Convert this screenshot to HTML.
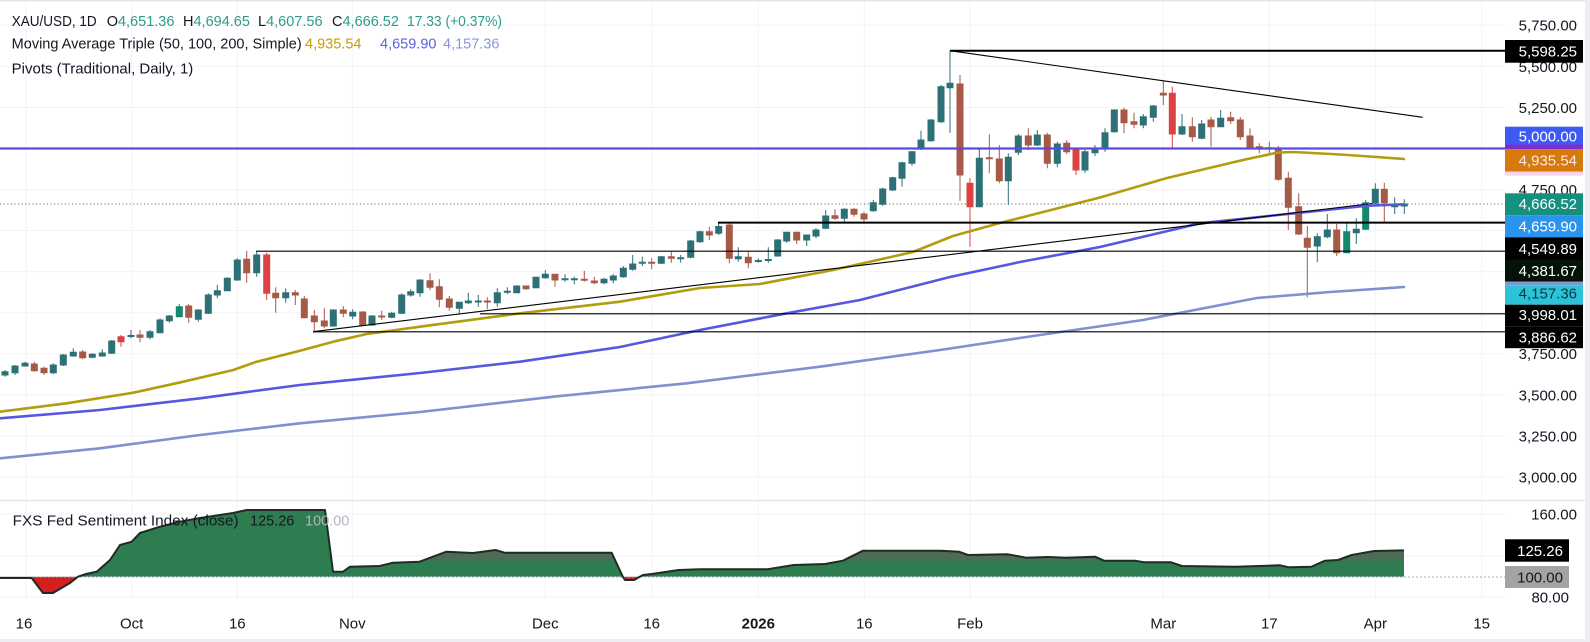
<!DOCTYPE html>
<html><head><meta charset="utf-8"><style>
html,body{margin:0;padding:0;background:#fff;}
svg{display:block;font-family:"Liberation Sans",Arial,sans-serif;}
</style></head><body>
<svg width="1590" height="642" viewBox="0 0 1590 642" xmlns="http://www.w3.org/2000/svg">
<rect x="0" y="0" width="1590" height="642" fill="#fff"/>
<!-- grid -->
<g stroke="#f0f3fa" stroke-width="1">
<path d="M0 25.3H1505M0 66.4H1505M0 107.5H1505M0 148.5H1505M0 189.6H1505M0 230.6H1505M0 271.7H1505M0 312.8H1505M0 353.8H1505M0 394.9H1505M0 436H1505M0 477H1505"/>
<path d="M0 514H1505M0 556H1505M0 597H1505"/>
<path d="M26 0V600M131.7 0V600M237.3 0V600M352.3 0V600M545.3 0V600M651.7 0V600M758.3 0V600M864.3 0V600M970 0V600M1163.3 0V600M1269.3 0V600M1375.3 0V600M1481.7 0V600"/>
</g>
<line x1="0" y1="500.5" x2="1585" y2="500.5" stroke="#e0e3eb" stroke-width="1.2"/>

<!-- candles -->
<g stroke-width="1" stroke-linejoin="miter">
<path fill="#2d7076" stroke="#2d7076" d="M5 370V376.7M2 371.7h6V375h-6zM15 365V375M12 366h6V372.7h-6zM25 361.7V366.7M22 363.3h6V366h-6zM53.3 363.3V374M50.3 365h6V372.7h-6zM63.3 354V366M60.3 355h6V365h-6zM73.3 348.3V356.7M70.3 352.3h6V356h-6zM92.3 353.3V358.3M89.3 354.3h6V357.3h-6zM102.3 349.3V356.7M99.3 353h6V356h-6zM111.7 340V354M108.7 341h6V353.3h-6zM131 330V338.3M128 335.5h6V336.5h-6zM150 330V339.3M147 331.7h6V337.3h-6zM160 318.3V333.3M157 320h6V332.7h-6zM169.3 315V322.7M166.3 316h6V320.7h-6zM198.3 309.3V321.7M195.3 310h6V319.3h-6zM208.3 293.3V314M205.3 295h6V313.3h-6zM217.3 285V298.3M214.3 290.7h6V295h-6zM227.3 277.3V291.3M224.3 278.3h6V290.7h-6zM237.3 258.3V280.7M234.3 260h6V280h-6zM256.7 251.7V276.7M253.7 255h6V272.7h-6zM285.7 288.3V302.7M282.7 292.7h6V297.7h-6zM333.3 309.3V326.7M330.3 310h6V326h-6zM352.7 309.3V319.3M349.7 312.3h6V316h-6zM372 315.3V325.7M369 316h6V325h-6zM391.7 311.7V318.3M388.7 313.3h6V317.3h-6zM401.7 293.3V314M398.7 295h6V313.3h-6zM410.7 289.3V296.7M407.7 291.7h6V295h-6zM420 279.3V296.7M417 280h6V292.7h-6zM459.3 301.7V313.3M456.3 302.3h6V308.3h-6zM468.3 292.7V304M465.3 301h6V302.7h-6zM478.3 295V306.7M475.3 301h6V302h-6zM497.3 288.3V306.7M494.3 292.7h6V302.7h-6zM507.3 287.3V294.3M504.3 291.2h6V292.2h-6zM516.7 285.3V293M513.7 286h6V292.7h-6zM536 276.7V288.3M533 277.3h6V287.7h-6zM545.3 270V278.7M542.3 274.3h6V277.7h-6zM565 274.3V281.7M562 278.8h6V279.8h-6zM574.3 276.7V284.3M571.3 278.8h6V279.8h-6zM604 277.7V284.3M601 279.3h6V282.7h-6zM613.3 274.3V283.3M610.3 276h6V280h-6zM623.3 266V277.7M620.3 268.3h6V276.7h-6zM632.7 255V270.7M629.7 264h6V269.3h-6zM642.3 256.7V266M639.3 262.2h6V263.2h-6zM661.3 256V264M658.3 256.7h6V263.3h-6zM680.7 255V262.7M677.7 257.8h6V258.8h-6zM690.7 240V258.3M687.7 241h6V257.3h-6zM700 230.7V242.7M697 231.7h6V241.7h-6zM718.7 221.7V235M715.7 226.5h6V233.3h-6zM738.3 247.3V261.7M735.3 256.7h6V258.7h-6zM758.3 258.3V262.7M755.3 260.5h6V261.5h-6zM768.3 247.3V262.7M765.3 259.5h6V260.5h-6zM777.7 239V256.7M774.7 240h6V256h-6zM786.7 231.7V242.7M783.7 232.3h6V241h-6zM806.7 235V246M803.7 235h6V240h-6zM816 228.3V238.3M813 230h6V236h-6zM825.7 210V229.3M822.7 216h6V228.3h-6zM844.3 208.3V221.7M841.3 209.3h6V218.3h-6zM873.3 200V211.7M870.3 202.7h6V210.7h-6zM882.7 187.7V205.7M879.7 189h6V204.3h-6zM892.7 176.7V191M889.7 177.7h6V190h-6zM902 161.7V186.7M899 162.7h6V178.3h-6zM912 151V165.7M909 151.7h6V163.3h-6zM921 130.7V150M918 140h6V148.3h-6zM931 119V141.7M928 120h6V140.7h-6zM941 85V123.3M938 86.7h6V121.7h-6zM950 50.7V132.7M947 83.3h6V87.7h-6zM979.3 148.3V207.3M976.3 158.3h6V206.7h-6zM1008.3 153.3V205M1005.3 157.3h6V180.7h-6zM1018.3 134V155M1015.3 136h6V152.3h-6zM1037.3 130V146M1034.3 135h6V145h-6zM1057.3 141.7V167.3M1054.3 144h6V163.3h-6zM1085 148.3V172.7M1082 151.7h6V170h-6zM1095 145V156M1092 148.3h6V152.7h-6zM1105 128.3V151.7M1102 132.7h6V148.3h-6zM1114.3 109.3V132.7M1111.3 110h6V131.7h-6zM1143.3 114V128.3M1140.3 116.7h6V125h-6zM1153.3 105V121.7M1150.3 106h6V117.3h-6zM1182 114V135M1179 126.7h6V134h-6zM1201.7 120V139.3M1198.7 124h6V138.3h-6zM1220.7 110V127.3M1217.7 118.3h6V126.7h-6zM1317.3 233.3V262.3M1314.3 236.7h6V246h-6zM1327.3 214V238.3M1324.3 230h6V236.7h-6zM1356.3 218.3V244M1353.3 229.3h6V232.7h-6zM1375.3 183.3V204M1372.3 189.3h6V203.3h-6zM1394.7 197.3V214M1391.7 205h6V206.7h-6zM1404.3 199.3V214M1401.3 204h6V206h-6z"/>
<path fill="#15876e" stroke="#15876e" d="M179.3 304V317.3M176.3 306.7h6V316.7h-6zM1346.7 222.7V253.3M1343.7 231.7h6V252.7h-6zM1365.7 200V230M1362.7 202.7h6V229.3h-6z"/>
<path fill="#a65a47" stroke="#a65a47" d="M34.3 361.7V371.7M31.3 364h6V370.7h-6zM44 366.7V375M41 368.3h6V372.7h-6zM82.7 350V359.3M79.7 352h6V357.7h-6zM140 330V342.3M137 335h6V337.3h-6zM188.7 304V322.7M185.7 306h6V317.3h-6zM246.7 250.7V282.7M243.7 259.3h6V272.7h-6zM275.7 287.3V312.7M272.7 293.3h6V297.7h-6zM295.3 290V305M292.3 292.7h6V295h-6zM304.3 296V318.3M301.3 299h6V317.7h-6zM314.3 310V331.7M311.3 316h6V321.7h-6zM324.3 308.3V328.3M321.3 321h6V326h-6zM343.3 306V317.3M340.3 310h6V313.3h-6zM362.7 311.3V326M359.7 312h6V325h-6zM381.7 310.7V320M378.7 316h6V317h-6zM430 273.3V290M427 280.7h6V287.3h-6zM439.3 279.3V307.3M436.3 286.7h6V299.3h-6zM449.3 296V310.7M446.3 299h6V307.3h-6zM487.3 297.3V309.3M484.3 301h6V302h-6zM526 285.5V290M523 286h6V288.7h-6zM555 274V286.7M552 274.3h6V280h-6zM584.3 270.7V281.7M581.3 279.3h6V280.3h-6zM594.3 276.7V284.3M591.3 281h6V282.7h-6zM651.7 258.3V269.3M648.7 262.2h6V263.2h-6zM671.3 251.7V262.7M668.3 256.7h6V258.3h-6zM709.3 226.7V240M706.3 231.7h6V235h-6zM729.3 223.3V263.3M726.3 225h6V258.3h-6zM748.3 251.7V268.3M745.3 257.3h6V262.7h-6zM796.7 231.7V244M793.7 232.3h6V240h-6zM835 209.3V220M832 215.7h6V218.3h-6zM854 208.3V216.7M851 209.3h6V214.3h-6zM864 211.7V224M861 214h6V219h-6zM960 75V200.7M957 84h6V175h-6zM989.3 134.3V173.3M986.3 157.8h6V158.8h-6zM999.3 145V183.3M996.3 159h6V180.7h-6zM1028.3 128.3V150M1025.3 136h6V145h-6zM1047.3 132.7V168.3M1044.3 135h6V163.3h-6zM1066.7 140V154M1063.7 143.3h6V151.7h-6zM1124 107.7V133.3M1121 110h6V122.7h-6zM1134 112.7V128.3M1131 121.7h6V124.3h-6zM1163.3 80.7V105M1160.3 93.3h6V95h-6zM1192.3 117.3V141.7M1189.3 126.7h6V136.7h-6zM1211 116.7V146.7M1208 120h6V126.7h-6zM1230.7 111.7V124M1227.7 117.7h6V120.7h-6zM1240.3 117.3V140M1237.3 120h6V136.7h-6zM1250 128.3V148.3M1247 136h6V147.3h-6zM1259.3 143.3V153.3M1256.3 146.8h6V147.8h-6zM1269.3 141.7V153.3M1266.3 147.8h6V148.8h-6zM1278.3 146V180.7M1275.3 148.3h6V179.3h-6zM1288.3 171.7V230M1285.3 178.3h6V207.3h-6zM1298.7 193.3V235M1295.7 206.7h6V234h-6zM1307.3 226V297.3M1304.3 238.3h6V247.3h-6zM1336.7 224V256M1333.7 230h6V252.7h-6zM1384.3 182.7V222.7M1381.3 189.3h6V202.7h-6z"/>
<path fill="#dc4242" stroke="#dc4242" d="M121 335V346.7M118 336.7h6V341.7h-6zM266.7 252.7V300M263.7 255h6V293.3h-6zM970 178.3V246.7M967 183.3h6V206.7h-6zM1076 148.3V175M1073 150h6V170h-6zM1172.3 86.7V148.3M1169.3 93.3h6V134h-6z"/>
</g>

<!-- moving averages -->
<g fill="none" stroke-width="2.6" stroke-linejoin="round" stroke-linecap="round">
<polyline stroke="#7f91cf" points="0,458.3 100,448.3 200,435 300,423.3 420,412 553.3,396.7 686.7,383.3 820,366.7 940,350 1040,335 1143,320 1257,298 1330,292 1404,287"/>
<polyline stroke="#5757e0" points="0,418.3 100,410 200,398.3 300,385 420,373 520,361.7 620,347 700,330 786.7,313.3 860,300 950,277 1020,262 1100,247 1200,223.3 1300,212.7 1367,205.7 1404,204.3"/>
<polyline stroke="#b19d0e" points="0,411.7 66.7,403.3 133.3,392.7 183.3,381.7 233.3,370 256.7,361.7 300,350.7 333.3,341.7 366.7,334 420,326.7 520,313.3 620,301.7 700,288 760,284 833,270 913,252 953,236 1000,223 1100,197.5 1167,178 1243,160 1277,152.7 1293,152 1340,154.5 1377,157 1404,159"/>
</g>

<!-- drawings / pivots -->
<g fill="none" stroke="#000">
<line x1="950" y1="50.7" x2="1505" y2="50.7" stroke-width="2"/>
<line x1="718" y1="222.6" x2="1505" y2="222.6" stroke-width="2"/>
<line x1="256" y1="251.2" x2="1505" y2="251.2" stroke-width="1.2"/>
<line x1="480" y1="313.8" x2="1505" y2="313.8" stroke-width="1.2"/>
<line x1="313" y1="331.8" x2="1505" y2="331.8" stroke-width="1.2"/>
<line x1="950" y1="50.7" x2="1422.7" y2="117.3" stroke-width="1.1"/>
<line x1="313" y1="331.7" x2="1372" y2="203.5" stroke-width="1.1"/>
</g>
<line x1="0" y1="148.5" x2="1505" y2="148.5" stroke="#5b49e6" stroke-width="2.2"/>
<line x1="0" y1="204" x2="1505" y2="204" stroke="#6a6f7a" stroke-width="1" stroke-dasharray="1.2,2.4"/>

<!-- indicator pane -->
<defs>
<clipPath id="cAbove"><rect x="0" y="480" width="1505" height="96.7"/></clipPath>
<clipPath id="cBelow"><rect x="0" y="576.7" width="1505" height="30"/></clipPath>
<clipPath id="cTop"><rect x="340" y="480" width="1165" height="80.5"/></clipPath>
</defs>
<g>
<path d="M0,578 L31.7,578 L43,593 L53,593 L70,583 L78,576.7 L86,574 L96.7,571.7 L110,560 L120,545 L131.7,541.7 L140,533 L160,526.7 L180,521.7 L200,518 L233,513 L246.7,510 L325,510 L333,571.7 L343,571.7 L350,566.7 L379.5,566 L393,562.7 L419.6,561.7 L446.4,551.7 L473,553 L495.5,550 L504.5,552.7 L611.6,552.7 L622.8,576.7 L625,580 L634,580 L643,575 L651.8,574 L678.6,570 L700,569.3 L767,569.3 L793.8,565 L825,564 L842.9,560.7 L863,550.7 L941,550.7 L959,551.7 L967.9,555 L1008,554.3 L1026,557.7 L1048,557 L1066,557.7 L1095,556.7 L1104,560.7 L1135,560.7 L1144,562.3 L1171,562.3 L1182,566 L1235.7,566.7 L1280,565.3 L1289,567.3 L1311.6,566.7 L1325,560.7 L1338,560 L1351.8,555 L1374,551 L1404,550.4 L1404,576.7 L0,576.7 Z" fill="#2e7d50" clip-path="url(#cAbove)"/>
<path d="M0,578 L31.7,578 L43,593 L53,593 L70,583 L78,576.7 L86,574 L96.7,571.7 L110,560 L120,545 L131.7,541.7 L140,533 L160,526.7 L180,521.7 L200,518 L233,513 L246.7,510 L325,510 L333,571.7 L343,571.7 L350,566.7 L379.5,566 L393,562.7 L419.6,561.7 L446.4,551.7 L473,553 L495.5,550 L504.5,552.7 L611.6,552.7 L622.8,576.7 L625,580 L634,580 L643,575 L651.8,574 L678.6,570 L700,569.3 L767,569.3 L793.8,565 L825,564 L842.9,560.7 L863,550.7 L941,550.7 L959,551.7 L967.9,555 L1008,554.3 L1026,557.7 L1048,557 L1066,557.7 L1095,556.7 L1104,560.7 L1135,560.7 L1144,562.3 L1171,562.3 L1182,566 L1235.7,566.7 L1280,565.3 L1289,567.3 L1311.6,566.7 L1325,560.7 L1338,560 L1351.8,555 L1374,551 L1404,550.4 L1404,576.7 L0,576.7 Z" fill="#4d6c54" clip-path="url(#cTop)"/>
<path d="M0,578 L31.7,578 L43,593 L53,593 L70,583 L78,576.7 L622.8,576.7 L625,580 L634,580 L643,575 L643,576.7 L0,576.7 Z" fill="#d41f1f" clip-path="url(#cBelow)"/>
<line x1="0" y1="577" x2="1505" y2="577" stroke="#a8abb3" stroke-width="1" stroke-dasharray="2,2"/>
<polyline fill="none" stroke="#1f2b23" stroke-width="2" stroke-linejoin="round" points="0,578 31.7,578 43,593 53,593 70,583 78,576.7 86,574 96.7,571.7 110,560 120,545 131.7,541.7 140,533 160,526.7 180,521.7 200,518 233,513 246.7,510 325,510 333,571.7 343,571.7 350,566.7 379.5,566 393,562.7 419.6,561.7 446.4,551.7 473,553 495.5,550 504.5,552.7 611.6,552.7 622.8,576.7 625,580 634,580 643,575 651.8,574 678.6,570 700,569.3 767,569.3 793.8,565 825,564 842.9,560.7 863,550.7 941,550.7 959,551.7 967.9,555 1008,554.3 1026,557.7 1048,557 1066,557.7 1095,556.7 1104,560.7 1135,560.7 1144,562.3 1171,562.3 1182,566 1235.7,566.7 1280,565.3 1289,567.3 1311.6,566.7 1325,560.7 1338,560 1351.8,555 1374,551 1404,550.4"/>
</g>

<!-- header legend -->
<g font-size="14.5" fill="#131722">
<text x="11.7" y="26" textLength="85" lengthAdjust="spacingAndGlyphs">XAU/USD, 1D</text>
<text x="106.7" y="26">O<tspan fill="#2e9b88">4,651.36</tspan></text>
<text x="183" y="26">H<tspan fill="#2e9b88">4,694.65</tspan></text>
<text x="258" y="26">L<tspan fill="#2e9b88">4,607.56</tspan></text>
<text x="332" y="26">C<tspan fill="#2e9b88">4,666.52</tspan></text>
<text x="407" y="26" fill="#2e9b88" textLength="95" lengthAdjust="spacingAndGlyphs">17.33 (+0.37%)</text>
<text x="11.7" y="48.5" textLength="290" lengthAdjust="spacingAndGlyphs">Moving Average Triple (50, 100, 200, Simple)</text>
<text x="305" y="48.5" fill="#c99a08">4,935.54</text>
<text x="380" y="48.5" fill="#5a62e0">4,659.90</text>
<text x="443" y="48.5" fill="#8b97d6">4,157.36</text>
<text x="11.7" y="73.5" textLength="181.6" lengthAdjust="spacingAndGlyphs">Pivots (Traditional, Daily, 1)</text>
<text x="12.7" y="525.5" textLength="226" lengthAdjust="spacingAndGlyphs">FXS Fed Sentiment Index (close)</text>
<text x="250" y="525.5" fill="#131722">125.26</text>
<text x="305" y="525.5" fill="#b2b5be">100.00</text>
</g>

<!-- price scale -->
<g font-size="15" fill="#131722" text-anchor="end">
<text x="1577" y="30.7">5,750.00</text>
<text x="1577" y="71.8">5,500.00</text>
<text x="1577" y="112.9">5,250.00</text>
<text x="1577" y="195">4,750.00</text>
<text x="1577" y="359.2">3,750.00</text>
<text x="1577" y="400.3">3,500.00</text>
<text x="1577" y="441.4">3,250.00</text>
<text x="1577" y="482.4">3,000.00</text>
<text x="1577" y="519.4">160.00</text>
<text x="1569" y="602.4">80.00</text>
</g>
<g>
<rect x="1505" y="40" width="78" height="22.7" fill="#000"/>
<rect x="1505" y="126.7" width="78" height="18" fill="#3d5af1"/>
<rect x="1505" y="144.5" width="78" height="4.8" fill="#7d2fcf"/>
<rect x="1505" y="149.3" width="78" height="22.4" fill="#d67a0c"/>
<rect x="1505" y="171.7" width="78" height="4" fill="#fad4ec"/>
<rect x="1505" y="193.3" width="78" height="22" fill="#16907e"/>
<rect x="1505" y="215.3" width="78" height="22" fill="#2a93ee"/>
<rect x="1505" y="237.3" width="78" height="22.2" fill="#000"/>
<rect x="1505" y="259.5" width="78" height="22.2" fill="#04120a"/>
<rect x="1505" y="281.7" width="78" height="4" fill="#7f9ad0"/>
<rect x="1505" y="285.7" width="78" height="19" fill="#2cc3d9"/>
<rect x="1505" y="304.7" width="78" height="21.5" fill="#000"/>
<rect x="1505" y="326.2" width="78" height="22" fill="#000"/>
<rect x="1505" y="539.3" width="64" height="22.4" fill="#000"/>
<rect x="1505" y="566" width="64" height="22" fill="#a3a3a3"/>
</g>
<g font-size="15" fill="#fff" text-anchor="end">
<text x="1577" y="56.6">5,598.25</text>
<text x="1577" y="141.6">5,000.00</text>
<text x="1577" y="165.4" fill="#ffe6e6">4,935.54</text>
<text x="1577" y="209.2">4,666.52</text>
<text x="1577" y="231.6">4,659.90</text>
<text x="1577" y="253.8">4,549.89</text>
<text x="1577" y="276.2">4,381.67</text>
<text x="1577" y="298.4" fill="#0b3a3e">4,157.36</text>
<text x="1577" y="319.8">3,998.01</text>
<text x="1577" y="342.4">3,886.62</text>
<text x="1563" y="556">125.26</text>
<text x="1563" y="582.5" fill="#131722">100.00</text>
</g>

<!-- time axis -->
<g font-size="15" fill="#131722" text-anchor="middle">
<text x="24" y="628.5">16</text>
<text x="131.7" y="628.5">Oct</text>
<text x="237.3" y="628.5">16</text>
<text x="352.3" y="628.5">Nov</text>
<text x="545.3" y="628.5">Dec</text>
<text x="651.7" y="628.5">16</text>
<text x="758.3" y="628.5" font-weight="bold">2026</text>
<text x="864.3" y="628.5">16</text>
<text x="970" y="628.5">Feb</text>
<text x="1163.3" y="628.5">Mar</text>
<text x="1269.3" y="628.5">17</text>
<text x="1375.3" y="628.5">Apr</text>
<text x="1481.7" y="628.5">15</text>
</g>

<!-- frame -->
<rect x="0" y="0" width="1590" height="1.5" fill="#e3e6ee"/>
<rect x="1585" y="0" width="5" height="642" fill="#eceef3"/>
<rect x="0" y="639" width="1590" height="3" fill="#eceef3"/>
</svg>
</body></html>
